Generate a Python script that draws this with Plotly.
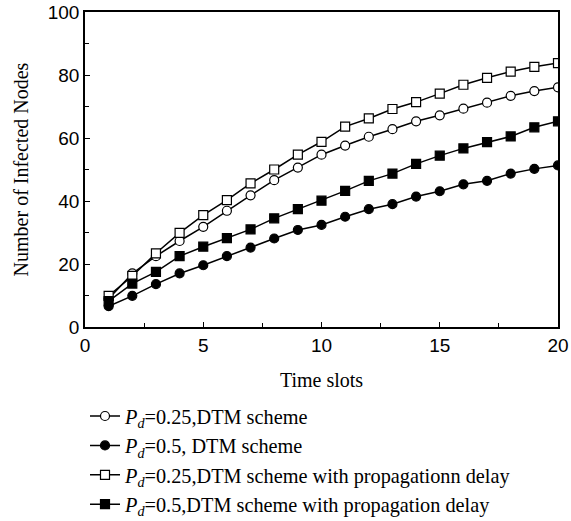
import plotly.graph_objects as go

time_slots = list(range(1, 21))
pd025_dtm = [9.0, 17.0, 22.5, 27.3, 31.8, 36.9, 41.8, 46.6, 50.6, 54.7,
             57.6, 60.4, 62.8, 65.3, 67.2, 69.3, 71.2, 73.4, 74.9, 76.1]
pd05_dtm = [6.6, 9.9, 13.6, 17.0, 19.6, 22.5, 25.2, 28.1, 30.8, 32.4,
            35.0, 37.4, 39.0, 41.4, 43.1, 45.3, 46.4, 48.7, 50.2, 51.3]
pd025_delay = [9.9, 16.2, 23.4, 29.9, 35.5, 40.3, 45.6, 50.0, 54.7, 58.8,
               63.6, 66.2, 69.2, 71.4, 74.1, 76.9, 79.1, 81.1, 82.6, 83.8]
pd05_delay = [8.2, 13.8, 17.5, 22.5, 25.5, 28.2, 31.0, 34.5, 37.4, 40.1,
              43.2, 46.4, 48.7, 51.8, 54.4, 56.7, 58.7, 60.5, 63.4, 65.3]

names = [
    "<i>P</i><sub><i>d</i></sub>=0.25,DTM scheme",
    "<i>P</i><sub><i>d</i></sub>=0.5, DTM scheme",
    "<i>P</i><sub><i>d</i></sub>=0.25,DTM scheme with propagationn delay",
    "<i>P</i><sub><i>d</i></sub>=0.5,DTM scheme with propagation delay",
]
series = [pd025_dtm, pd05_dtm, pd025_delay, pd05_delay]
symbols = ["circle", "circle", "square", "square"]
fills = ["white", "black", "white", "black"]

fig = go.Figure()
for nm, ys, sym, fc in zip(names, series, symbols, fills):
    fig.add_trace(go.Scatter(
        x=time_slots, y=ys, name=nm, mode="lines+markers",
        line=dict(color="black", width=1.5),
        marker=dict(symbol=sym, size=9, color=fc,
                    line=dict(color="black", width=1.2)),
    ))

axis_common = dict(
    showline=True, linecolor="black", linewidth=1.5, mirror=True,
    ticks="inside", ticklen=5, tickcolor="black", tickwidth=1.2,
    showgrid=False, zeroline=False, automargin=False,
    tickfont=dict(family="Liberation Sans", size=19, color="black"),
)

fig.update_layout(
    width=571, height=521,
    margin=dict(l=85, r=13, t=12, b=194, autoexpand=False),
    paper_bgcolor="white", plot_bgcolor="white",
    xaxis=dict(range=[0, 20], tickvals=[0, 5, 10, 15, 20],
               minor=dict(tickvals=[2.5, 7.5, 12.5, 17.5], ticks="inside", ticklen=4,
                          tickcolor="black", tickwidth=1.2),
               title=dict(text="Time slots", standoff=18,
                          font=dict(family="Liberation Serif", size=20, color="black")),
               **axis_common),
    yaxis=dict(range=[0, 100], tickvals=[0, 20, 40, 60, 80, 100],
               minor=dict(tickvals=[10, 30, 50, 70, 90], ticks="inside", ticklen=4,
                          tickcolor="black", tickwidth=1.2),
               title=dict(text="Number of Infected Nodes", standoff=14,
                          font=dict(family="Liberation Serif", size=20, color="black")),
               **axis_common),
    legend=dict(x=0.0, y=-0.22, xanchor="left", yanchor="top",
                font=dict(family="Liberation Serif", size=20.3, color="black"),
                itemwidth=30, bgcolor="rgba(0,0,0,0)", tracegroupgap=0),
    showlegend=True,
)

fig.write_html("out.html")
